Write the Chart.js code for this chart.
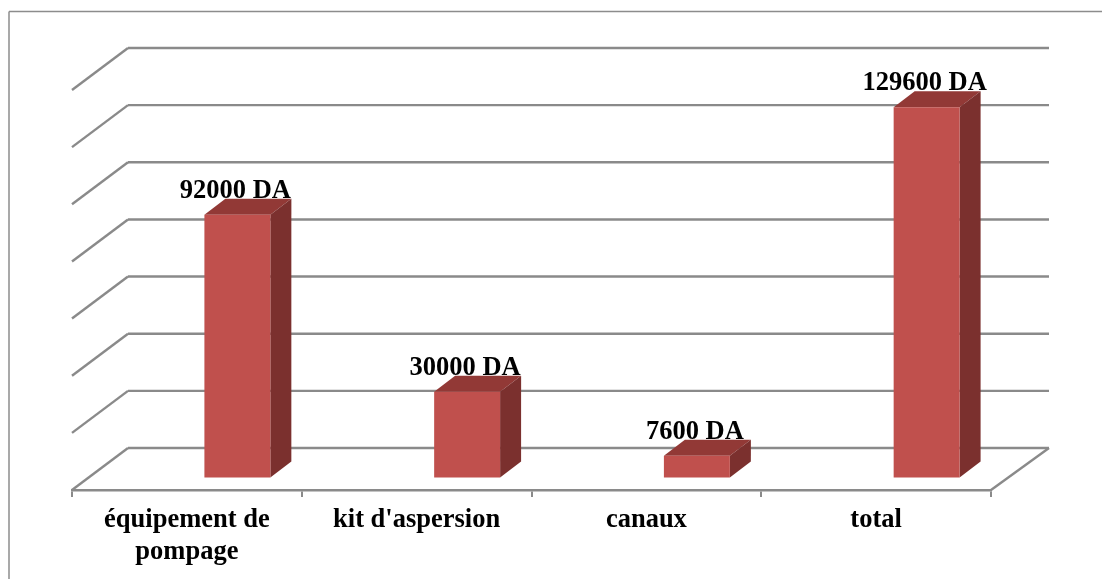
<!DOCTYPE html>
<html>
<head>
<meta charset="utf-8">
<style>
  html, body { margin: 0; padding: 0; background: #fff; overflow: hidden; }
  canvas { display: block; }
</style>
<script src="https://cdn.jsdelivr.net/npm/chart.js@4"></script>
</head>
<body>
<canvas id="chart" width="1102" height="579"></canvas>
<script>
const categories = [["équipement de", "pompage"], "kit d'aspersion", "canaux", "total"];
const costs = [92000, 30000, 7600, 129600];
const unit = "DA";
const yMax = 140000;
const yStep = 20000;

const FONT = "'Liberation Serif', serif";
const GRID = "#8a8a8a";
const WALL_X = 56, WALL_Y = 42;        // front plane -> back wall
const BAR_X = 50.5, BAR_Y = 12.5;      // front plane -> bar front face
const SIDE_X = 21, SIDE_Y = 16;        // bar depth

function line(ctx, x1, y1, x2, y2) {
  ctx.beginPath();
  ctx.moveTo(x1, y1);
  ctx.lineTo(x2, y2);
  ctx.stroke();
}

function face(ctx, color, pts) {
  ctx.fillStyle = color;
  ctx.beginPath();
  pts.forEach((p, i) => i ? ctx.lineTo(p[0], p[1]) : ctx.moveTo(p[0], p[1]));
  ctx.closePath();
  ctx.fill();
}

const fake3d = {
  id: "fake3d",
  beforeDatasetsDraw(chart) {
    const { ctx, scales: { x, y }, chartArea } = chart;
    ctx.save();
    // outer frame, its right and bottom sides fall outside the picture
    ctx.strokeStyle = "#8c8c8c";
    ctx.lineWidth = 1.5;
    line(ctx, 9, 579, 9, 11.5);
    line(ctx, 9, 11.5, 1102, 11.5);
    // back wall and left wall
    ctx.strokeStyle = GRID;
    ctx.lineWidth = 2.4;
    y.ticks.forEach(t => {
      const py = y.getPixelForValue(t.value);
      line(ctx, chartArea.left, py, chartArea.left + WALL_X, py - WALL_Y);
      line(ctx, chartArea.left + WALL_X, py - WALL_Y, chartArea.right + WALL_X + 2, py - WALL_Y);
    });
    // floor, right edge
    const py0 = y.getPixelForValue(0);
    line(ctx, chartArea.right, py0, chartArea.right + WALL_X + 2, py0 - WALL_Y);
    ctx.restore();
  },
  beforeDatasetDraw(chart, args) {
    const ctx = chart.ctx;
    ctx.save();
    ctx.translate(BAR_X, -BAR_Y);
    args.meta.data.forEach(bar => {
      const l = bar.x - bar.width / 2, r = bar.x + bar.width / 2;
      face(ctx, "#923936", [[l, bar.y], [l + SIDE_X, bar.y - SIDE_Y], [r + SIDE_X, bar.y - SIDE_Y], [r, bar.y]]);
      face(ctx, "#7b302e", [[r, bar.y], [r + SIDE_X, bar.y - SIDE_Y], [r + SIDE_X, bar.base - SIDE_Y], [r, bar.base]]);
    });
  },
  afterDatasetDraw(chart) {
    chart.ctx.restore();
  },
  afterDatasetsDraw(chart) {
    const ctx = chart.ctx;
    ctx.save();
    ctx.font = "bold 26.5px " + FONT;
    ctx.fillStyle = "#000";
    ctx.textAlign = "center";
    ctx.textBaseline = "alphabetic";
    chart.getDatasetMeta(0).data.forEach((bar, i) => {
      ctx.fillText(costs[i] + " " + unit, bar.x + BAR_X - 2, bar.y - BAR_Y - 17);
    });
    ctx.restore();
  }
};

new Chart(document.getElementById("chart"), {
  type: "bar",
  plugins: [fake3d],
  data: {
    labels: categories,
    datasets: [{
      data: costs,
      backgroundColor: "#c0504d",
      borderWidth: 0,
      barPercentage: 0.287,
      categoryPercentage: 1,
      clip: false
    }]
  },
  options: {
    responsive: false,
    animation: false,
    layout: { padding: { left: 72, right: 111, top: 90, bottom: 0 } },
    plugins: { legend: { display: false }, title: { display: false }, tooltip: { enabled: false } },
    scales: {
      x: {
        afterFit(scale) { scale.height = 89; },
        border: { color: GRID, width: 2.4 },
        grid: { drawOnChartArea: false, color: GRID, lineWidth: 2, tickLength: 7 },
        ticks: {
          color: "#000",
          font: { family: FONT, size: 26.5, weight: "bold", lineHeight: 1.21 },
          padding: 7,
          maxRotation: 0,
          autoSkip: false
        }
      },
      y: {
        afterFit(scale) { scale.width = 0; },
        min: 0,
        max: yMax,
        border: { display: false },
        grid: { display: false },
        ticks: { stepSize: yStep, display: false }
      }
    }
  }
});
</script>
</body>
</html>
